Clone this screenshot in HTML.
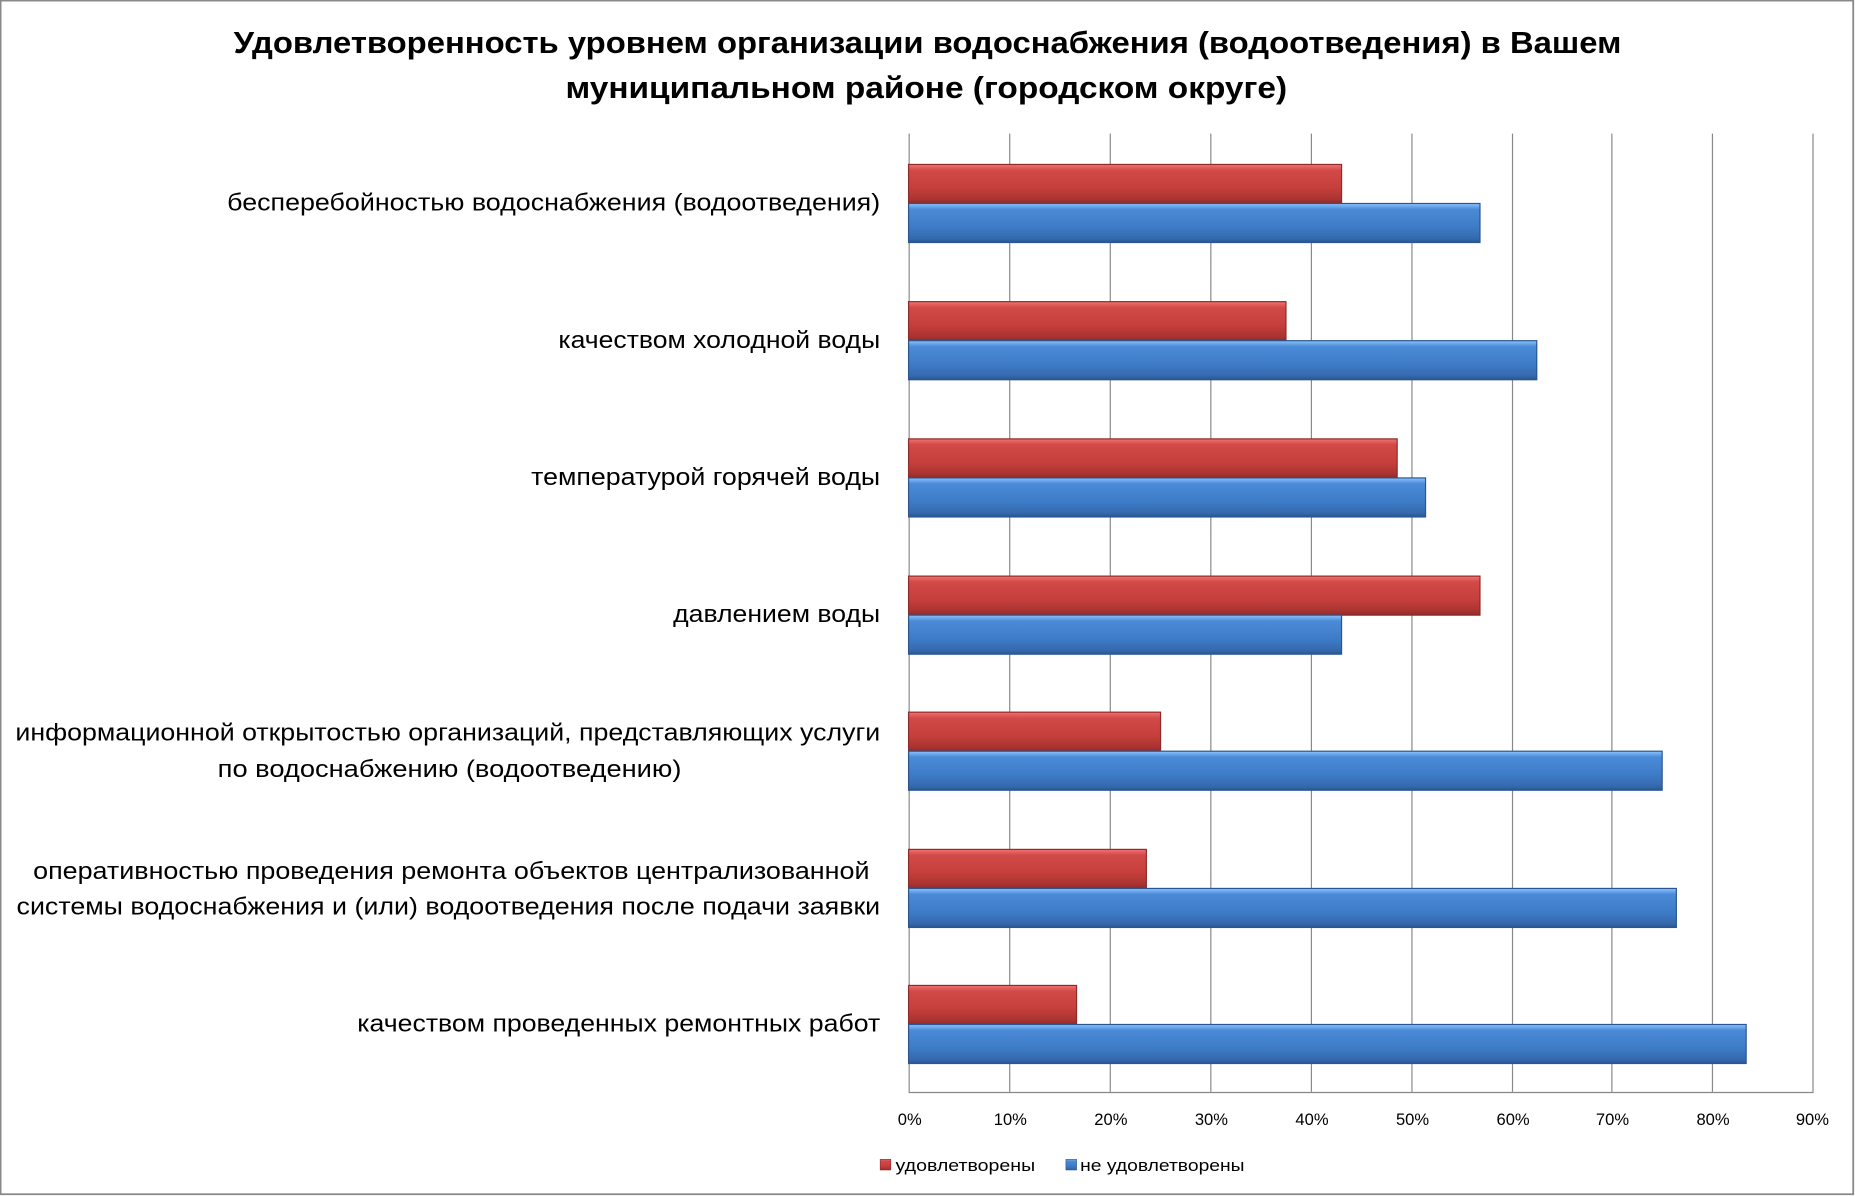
<!DOCTYPE html>
<html><head><meta charset="utf-8"><style>html,body{margin:0;padding:0;background:#fff}svg{display:block}</style></head>
<body>
<svg width="1855" height="1196" viewBox="0 0 1568 1011" preserveAspectRatio="none" xmlns="http://www.w3.org/2000/svg" font-family="'Liberation Sans', sans-serif">
<defs>
<linearGradient id="r" x1="0" y1="0" x2="0" y2="1">
<stop offset="0" stop-color="#f27272"/><stop offset="0.15" stop-color="#d24a48"/><stop offset="0.6" stop-color="#c63f3c"/><stop offset="0.9" stop-color="#a83330"/><stop offset="1" stop-color="#8e2a28"/></linearGradient>
<linearGradient id="b" x1="0" y1="0" x2="0" y2="1">
<stop offset="0" stop-color="#8ac4ff"/><stop offset="0.15" stop-color="#4b8ad6"/><stop offset="0.6" stop-color="#3e7cc8"/><stop offset="0.9" stop-color="#3569ad"/><stop offset="1" stop-color="#2a5590"/></linearGradient>
</defs>
<rect x="0.5" y="0.5" width="1566" height="1009" fill="#fff" stroke="#888" stroke-width="1.5"/>
<text x="784" y="45" font-size="26" font-weight="bold" text-anchor="middle" textLength="1173" lengthAdjust="spacingAndGlyphs">Удовлетворенность уровнем организации водоснабжения (водоотведения) в Вашем</text>
<text x="783" y="83" font-size="26" font-weight="bold" text-anchor="middle" textLength="610" lengthAdjust="spacingAndGlyphs">муниципальном районе (городском округе)</text>
<g stroke="#888" stroke-width="1">
<line x1="768.5" y1="113" x2="768.5" y2="923"/><line x1="853.5" y1="113" x2="853.5" y2="923"/><line x1="938.5" y1="113" x2="938.5" y2="923"/><line x1="1023.5" y1="113" x2="1023.5" y2="923"/><line x1="1108.5" y1="113" x2="1108.5" y2="923"/><line x1="1193.5" y1="113" x2="1193.5" y2="923"/><line x1="1278.5" y1="113" x2="1278.5" y2="923"/><line x1="1362.5" y1="113" x2="1362.5" y2="923"/><line x1="1447.5" y1="113" x2="1447.5" y2="923"/><line x1="1532.5" y1="113" x2="1532.5" y2="923"/>
<line x1="768" y1="923.5" x2="1533" y2="923.5"/>
</g>
<g stroke-width="1">
<rect x="768" y="139" width="366" height="33" fill="url(#r)" stroke="#8e2a28"/>
<rect x="768" y="172" width="483" height="33" fill="url(#b)" stroke="#2a5590"/>
<rect x="768" y="255" width="319" height="33" fill="url(#r)" stroke="#8e2a28"/>
<rect x="768" y="288" width="531" height="33" fill="url(#b)" stroke="#2a5590"/>
<rect x="768" y="371" width="413" height="33" fill="url(#r)" stroke="#8e2a28"/>
<rect x="768" y="404" width="437" height="33" fill="url(#b)" stroke="#2a5590"/>
<rect x="768" y="487" width="483" height="33" fill="url(#r)" stroke="#8e2a28"/>
<rect x="768" y="520" width="366" height="33" fill="url(#b)" stroke="#2a5590"/>
<rect x="768" y="602" width="213" height="33" fill="url(#r)" stroke="#8e2a28"/>
<rect x="768" y="635" width="637" height="33" fill="url(#b)" stroke="#2a5590"/>
<rect x="768" y="718" width="201" height="33" fill="url(#r)" stroke="#8e2a28"/>
<rect x="768" y="751" width="649" height="33" fill="url(#b)" stroke="#2a5590"/>
<rect x="768" y="833" width="142" height="33" fill="url(#r)" stroke="#8e2a28"/>
<rect x="768" y="866" width="708" height="33" fill="url(#b)" stroke="#2a5590"/>
</g>
<g font-size="20" fill="#000">
<text x="192" y="178" textLength="552" lengthAdjust="spacingAndGlyphs">бесперебойностью  водоснабжения (водоотведения)</text>
<text x="472" y="294" textLength="272" lengthAdjust="spacingAndGlyphs">качеством холодной воды</text>
<text x="449" y="410" textLength="295" lengthAdjust="spacingAndGlyphs">температурой горячей воды</text>
<text x="569" y="526" textLength="175" lengthAdjust="spacingAndGlyphs">давлением воды</text>
<text x="13" y="626" textLength="731" lengthAdjust="spacingAndGlyphs">информационной открытостью организаций, представляющих услуги</text>
<text x="184" y="657" textLength="392" lengthAdjust="spacingAndGlyphs">по водоснабжению (водоотведению)</text>
<text x="28" y="743" textLength="707" lengthAdjust="spacingAndGlyphs">оперативностью проведения ремонта объектов централизованной</text>
<text x="14" y="773" textLength="730" lengthAdjust="spacingAndGlyphs">системы водоснабжения и (или) водоотведения после подачи заявки</text>
<text x="302" y="872" textLength="442" lengthAdjust="spacingAndGlyphs">качеством проведенных ремонтных работ</text>
</g>
<g font-size="14" text-anchor="middle" fill="#000">
<text x="769" y="951">0%</text><text x="854" y="951">10%</text><text x="939" y="951">20%</text><text x="1024" y="951">30%</text><text x="1109" y="951">40%</text><text x="1194" y="951">50%</text><text x="1279" y="951">60%</text><text x="1363" y="951">70%</text><text x="1448" y="951">80%</text><text x="1532" y="951">90%</text>
</g>
<rect x="744" y="980" width="9" height="9" fill="url(#r)" stroke="#8e2a28" stroke-width="0.5"/>
<text x="757" y="990" font-size="14" textLength="118" lengthAdjust="spacingAndGlyphs">удовлетворены</text>
<rect x="901" y="980" width="9" height="9" fill="url(#b)" stroke="#2a5590" stroke-width="0.5"/>
<text x="913" y="990" font-size="14" textLength="139" lengthAdjust="spacingAndGlyphs">не удовлетворены</text>
</svg>
</body></html>
